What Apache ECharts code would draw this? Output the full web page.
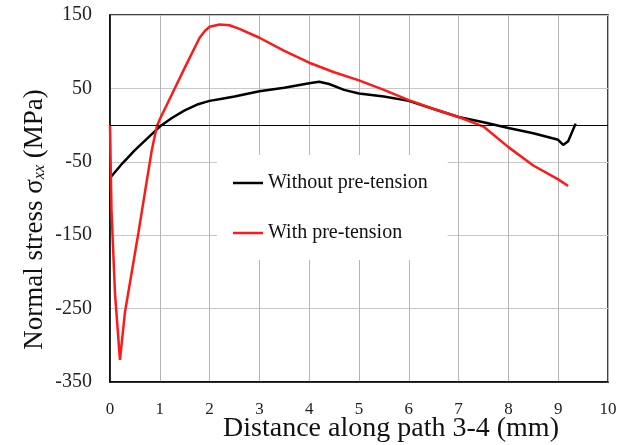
<!DOCTYPE html>
<html>
<head>
<meta charset="utf-8">
<script src="https://cdn.jsdelivr.net/npm/echarts@6/dist/echarts.min.js"></script>
<style>html,body{margin:0;padding:0;background:#fff;}#c{width:619px;height:445px;}</style>
</head>
<body>
<div id="c"></div>
<script>
var seriesNames = ['Without pre-tension', 'With pre-tension'];
var withoutPre = [[0,-72],[0.25,-52],[0.5,-34],[0.75,-18],[1.0,-2],[1.25,10],[1.5,20],[1.75,28],[2.0,33],[2.25,36],[2.5,39],[3.0,46],[3.5,51],[4.0,57],[4.2,59],[4.4,56],[4.7,48],[5.0,43],[5.5,39],[6.0,33],[6.5,22],[7.0,11],[7.5,4],[8.0,-4],[8.5,-11],[9.0,-20],[9.1,-27],[9.2,-22],[9.35,2]];
var withPre = [[0,0],[0.03,-116],[0.1,-229],[0.2,-320],[0.3,-255],[0.45,-195],[0.57,-147],[0.7,-92],[0.84,-34],[0.94,-2],[1.0,8],[1.2,36],[1.5,78],[1.8,119],[1.9,128],[2.0,134],[2.2,137],[2.4,136],[2.6,131],[3.0,119],[3.5,101],[4.0,85],[4.5,72],[5.0,61],[5.5,48],[6.0,34],[6.5,22],[7.0,11],[7.5,-2],[8.0,-30],[8.5,-55],[9.0,-74],[9.2,-83]];
var xMin = 0, xMax = 10, xStep = 1;
var yMin = -350, yMax = 150, yStep = 100;

var font = "'Liberation Serif','Times New Roman',serif";
var chart = echarts.init(document.getElementById('c'));
chart.setOption({
  animation: false,
  grid: {left: 110, right: 11, top: 15, bottom: 63, containLabel: false, outerBoundsMode: 'none', show: true, borderColor: '#000', borderWidth: 1.5, backgroundColor: 'transparent'},
  legend: {
    orient: 'vertical', left: 217, top: 155,
    backgroundColor: '#fff',
    padding: [18, 20, 17, 16],
    itemGap: 30, itemWidth: 30, itemHeight: 20,
    icon: 'path://M0,9 L30,9 L30,11.5 L0,11.5 Z',
    textStyle: {fontFamily: font, fontSize: 20, color: '#111'},
    data: seriesNames
  },
  xAxis: {
    type: 'value', min: xMin, max: xMax, interval: xStep,
    axisLine: {onZero: false, lineStyle: {color: '#000', width: 1.5}},
    axisTick: {show: false},
    splitLine: {show: true, lineStyle: {color: '#b5b5b5', width: 1}},
    axisLabel: {fontFamily: font, fontSize: 17, color: '#222', margin: 19},
    name: 'Distance along path 3-4 (mm)', nameLocation: 'middle', nameGap: 33, nameMoveOverlap: false,
    nameTextStyle: {fontFamily: font, fontSize: 28, color: '#111', padding: [0, 0, 0, 64]}
  },
  yAxis: {
    type: 'value', min: yMin, max: yMax, interval: yStep,
    axisLine: {lineStyle: {color: '#000', width: 1.5}},
    axisTick: {show: false},
    splitLine: {show: true, lineStyle: {color: '#c8c8c8', width: 1}},
    axisLabel: {fontFamily: font, fontSize: 20, color: '#222', margin: 18},
    name: 'Normal stress σ{sub|xx} (MPa)', nameLocation: 'middle', nameGap: 62, nameMoveOverlap: false,
    nameTextStyle: {fontFamily: font, fontSize: 27, color: '#111', padding: [0, 42, 0, 0],
      rich: {sub: {fontFamily: font, fontSize: 16, fontStyle: 'italic', color: '#111', verticalAlign: 'bottom', padding: [10, 0, 0, 0]}}}
  },
  series: [
    {name: seriesNames[0], type: 'line', data: withoutPre, showSymbol: false, symbol: 'none',
      lineStyle: {color: '#000', width: 2.5}, itemStyle: {color: '#000'},
      markLine: {silent: true, symbol: 'none', label: {show: false}, lineStyle: {color: '#000', width: 1.2, type: 'solid'}, data: [{yAxis: 0}]}},
    {name: seriesNames[1], type: 'line', data: withPre, showSymbol: false, symbol: 'none',
      lineStyle: {color: '#ff1a1a', width: 2.5}, itemStyle: {color: '#ff1a1a'}}
  ]
});
</script>
</body>
</html>
